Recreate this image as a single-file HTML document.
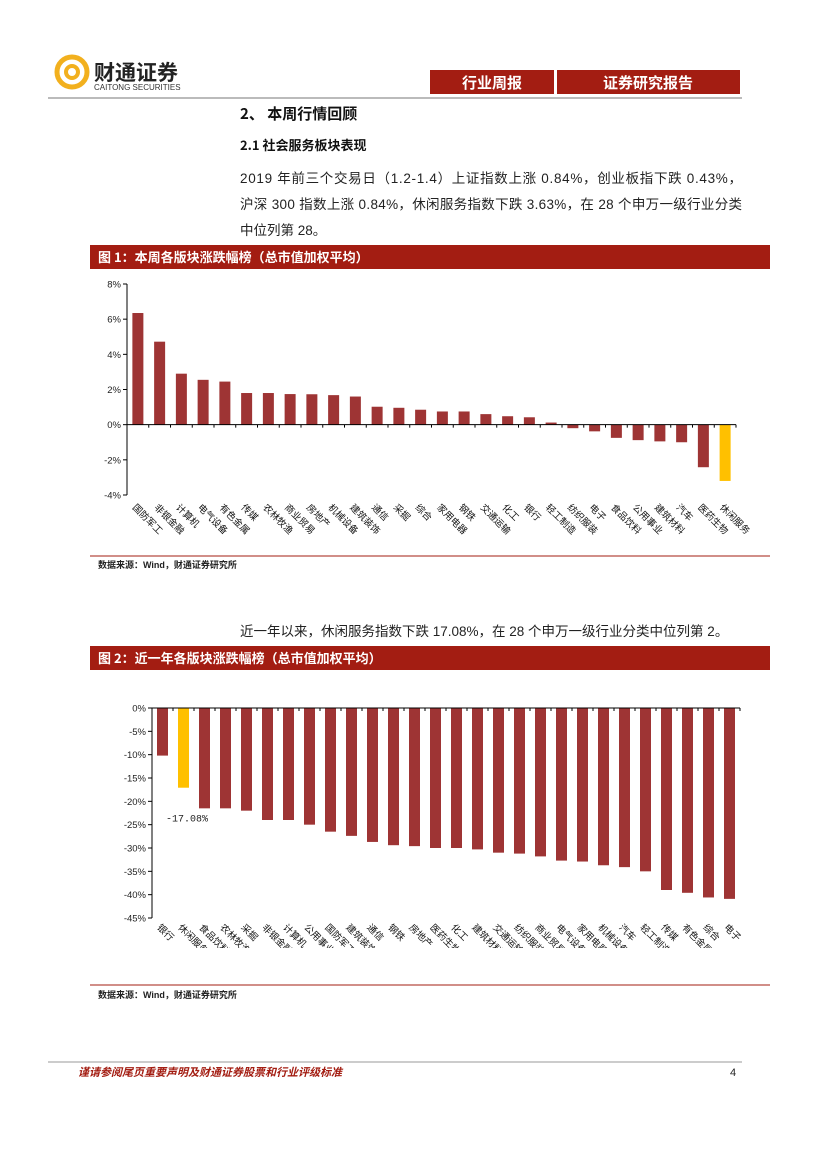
<!DOCTYPE html>
<html><head><meta charset="utf-8"><style>
body{margin:0;background:#fff;}
svg{display:block;font-family:"Liberation Sans","Noto Sans CJK SC",sans-serif;}
</style></head><body>
<svg width="827" height="1170" viewBox="0 0 827 1170">
<g>
<circle cx="72" cy="72" r="15" fill="none" stroke="#f2b01e" stroke-width="5"/>
<circle cx="72" cy="72" r="6" fill="none" stroke="#f2b01e" stroke-width="4"/>
<text x="94" y="80" font-size="21" font-weight="bold" fill="#222" font-family="'Noto Sans CJK SC',sans-serif">财通证券</text>
<text x="94" y="90" font-size="8" fill="#333">CAITONG SECURITIES</text>
</g>
<rect x="430" y="70" width="124" height="24" fill="#a31d12"/>
<text x="492" y="88" font-size="15" font-weight="bold" fill="#fff" text-anchor="middle" font-family="'Noto Sans CJK SC',sans-serif">行业周报</text>
<rect x="557" y="70" width="183" height="24" fill="#a31d12"/>
<text x="648" y="88" font-size="15" font-weight="bold" fill="#fff" text-anchor="middle" font-family="'Noto Sans CJK SC',sans-serif">证券研究报告</text>
<line x1="48" y1="98" x2="742" y2="98" stroke="#bbb" stroke-width="2"/>
<text x="240" y="119" font-size="15" font-weight="bold" fill="#111" font-family="'Noto Sans CJK SC',sans-serif">2、 本周行情回顾</text>
<text x="240" y="150" font-size="13" font-weight="bold" fill="#111" font-family="'Noto Sans CJK SC',sans-serif">2.1  社会服务板块表现</text>
<g font-size="13.5" fill="#222">
<text x="240" y="183" textLength="502">2019 年前三个交易日（1.2-1.4）上证指数上涨 0.84%，创业板指下跌 0.43%，</text>
<text x="240" y="209" textLength="502">沪深 300 指数上涨 0.84%，休闲服务指数下跌 3.63%，在 28 个申万一级行业分类</text>
<text x="240" y="235">中位列第 28。</text>
</g>
<rect x="90" y="245" width="680" height="24" fill="#a31d12"/>
<text x="98" y="262" font-size="13" font-weight="bold" fill="#fff" font-family="'Noto Sans CJK SC',sans-serif">图 1：本周各版块涨跌幅榜（总市值加权平均）</text>
<g id="c1"></g>
<line x1="90" y1="556" x2="770" y2="556" stroke="#a31d12" stroke-width="1"/>
<text x="98" y="568" font-size="9" font-weight="bold" fill="#222">数据来源：Wind，财通证券研究所</text>
<text x="240" y="636" font-size="13.5" fill="#222">近一年以来，休闲服务指数下跌 17.08%，在 28 个申万一级行业分类中位列第 2。</text>
<rect x="90" y="646" width="680" height="24" fill="#a31d12"/>
<text x="98" y="663" font-size="13" font-weight="bold" fill="#fff" font-family="'Noto Sans CJK SC',sans-serif">图 2：近一年各版块涨跌幅榜（总市值加权平均）</text>
<g id="c2"></g>
<rect x="90" y="948" width="680" height="35" fill="#fff"/>
<line x1="90" y1="985" x2="770" y2="985" stroke="#a31d12" stroke-width="1"/>
<text x="98" y="998" font-size="9" font-weight="bold" fill="#222">数据来源：Wind，财通证券研究所</text>
<line x1="48" y1="1062" x2="742" y2="1062" stroke="#bbb" stroke-width="1.5"/>
<text x="78" y="1076" font-size="11" font-weight="bold" font-style="italic" fill="#a31d12">谨请参阅尾页重要声明及财通证券股票和行业评级标准</text>
<text x="730" y="1076" font-size="11" fill="#222">4</text>
</svg>
<script>
const cats1=["国防军工","非银金融","计算机","电气设备","有色金属","传媒","农林牧渔","商业贸易","房地产","机械设备","建筑装饰","通信","采掘","综合","家用电器","钢铁","交通运输","化工","银行","轻工制造","纺织服装","电子","食品饮料","公用事业","建筑材料","汽车","医药生物","休闲服务"];
const vals1=[6.35,4.72,2.9,2.55,2.45,1.8,1.8,1.74,1.73,1.68,1.6,1.02,0.96,0.85,0.75,0.75,0.6,0.48,0.42,0.12,-0.2,-0.38,-0.75,-0.88,-0.95,-1.0,-2.42,-3.2];
const ticks1=[8,6,4,2,0,-2,-4];
const cats2=["银行","休闲服务","食品饮料","农林牧渔","采掘","非银金融","计算机","公用事业","国防军工","建筑装饰","通信","钢铁","房地产","医药生物","化工","建筑材料","交通运输","纺织服装","商业贸易","电气设备","家用电器","机械设备","汽车","轻工制造","传媒","有色金属","综合","电子"];
const vals2=[-10.2,-17.08,-21.5,-21.5,-22,-24,-24,-25,-26.5,-27.4,-28.7,-29.4,-29.6,-30,-30,-30.3,-31,-31.2,-31.8,-32.7,-32.9,-33.7,-34.1,-35,-39,-39.6,-40.6,-40.9];
const ticks2=[0,-5,-10,-15,-20,-25,-30,-35,-40,-45];
const NS="http://www.w3.org/2000/svg";
function mk(p,t,a){const e=document.createElementNS(NS,t);for(const k in a)e.setAttribute(k,a[k]);p.appendChild(e);return e;}
function chart(id,cats,vals,ticks,x0,x1,yTop,yBot,vMax,vMin,hiName,lblY){
  const g=document.getElementById(id);
  const y=v=>yTop+(vMax-v)/(vMax-vMin)*(yBot-yTop);
  const bw=(x1-x0)/cats.length;
  const ax=mk(g,'line',{x1:x0,y1:yTop,x2:x0,y2:yBot,stroke:'#000','stroke-width':1});
  
  
  ticks.forEach(t=>{
    mk(g,'line',{x1:x0-4,y1:y(t),x2:x0,y2:y(t),stroke:'#000'});
    const tx=mk(g,'text',{x:x0-6,y:y(t)+3.5,'font-size':9.5,'text-anchor':'end',fill:'#222'});
    tx.textContent=t+'%';
    
    
  });
  cats.forEach((c,i)=>{
    const cx=x0+bw*(i+0.5),v=vals[i];
    const r=mk(g,'rect',{x:cx-5.5,y:Math.min(y(v),y(0)),width:11,height:Math.abs(y(v)-y(0)),fill:c===hiName?'#ffc000':'#9e3434'});
    
    
    const t=mk(g,'text',{x:0,y:0,'font-size':9.5,fill:'#111',transform:`translate(${cx-6},${lblY}) rotate(45)`,'font-family':"'Noto Sans CJK SC',sans-serif"});
    t.textContent=c;
    
    
  });
  const za=mk(g,'line',{x1:x0,y1:y(0),x2:x1,y2:y(0),stroke:'#000','stroke-width':1});
  
  
  for(let i=0;i<=cats.length;i++)mk(g,'line',{x1:x0+bw*i,y1:y(0),x2:x0+bw*i,y2:y(0)+3,stroke:'#000'});
  return {y,bw};
}
chart('c1',cats1,vals1,ticks1,127,736,284,495,8,-4,'休闲服务',508);
const r2=chart('c2',cats2,vals2,ticks2,152,740,708,918,0,-45,'休闲服务',928);
const idx=cats2.indexOf('休闲服务');
const lb=mk(document.getElementById('c2'),'text',{x:166,y:r2.y(vals2[idx])+34,'font-size':10,fill:'#222','font-family':"'Liberation Mono',monospace"});
lb.textContent=vals2[idx].toFixed(2)+'%';


</script>
</body></html>
